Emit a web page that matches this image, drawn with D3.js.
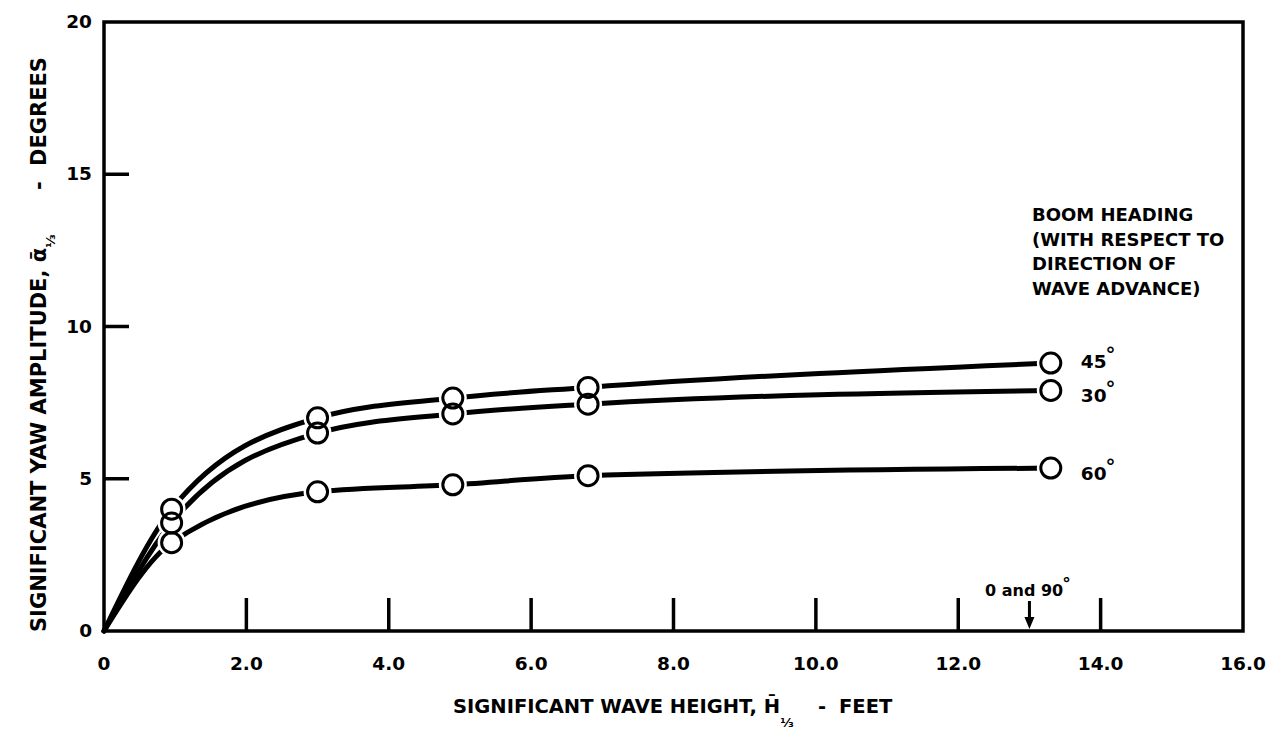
<!DOCTYPE html>
<html>
<head>
<meta charset="utf-8">
<script src="https://cdn.jsdelivr.net/npm/d3@7"></script>
<style>
body { margin: 0; background: #fff; }
svg text { font-family: "DejaVu Sans", sans-serif; font-weight: 700; fill: #000; }
</style>
</head>
<body>
<svg id="chart"></svg>
<script>
// values
var waveHeight = [0, 0.95, 3.0, 4.9, 6.8, 13.3];
var yaw45 = [0, 4.0, 7.0, 7.65, 8.0, 8.8];
var yaw30 = [0, 3.55, 6.5, 7.13, 7.45, 7.9];
var yaw60 = [0, 2.9, 4.57, 4.8, 5.1, 5.35];
var seriesNames = ["45", "30", "60"];
var xTicks = [0, 2, 4, 6, 8, 10, 12, 14, 16];
var yTicks = [0, 5, 10, 15, 20];
var legendLines = ["BOOM HEADING", "(WITH RESPECT TO", "DIRECTION OF", "WAVE ADVANCE)"];
var arrowAt = 13.0;

var svgWidth = 1276, svgHeight = 740;
var svg = d3.select("#chart").attr("width", svgWidth).attr("height", svgHeight);

var x = d3.scaleLinear().domain([0, 16]).range([104, 1243]);
var y = d3.scaleLinear().domain([0, 20]).range([631, 22]);

var series = [yaw45, yaw30, yaw60].map(function(vals, i) {
	return {name: seriesNames[i], pts: vals.map(function(v, j) {return [waveHeight[j], v];})};
});

// frame
svg.append("rect")
	.attr("x", x(0)).attr("y", y(20))
	.attr("width", x(16) - x(0)).attr("height", y(0) - y(20))
	.attr("fill", "none").attr("stroke", "#000").attr("stroke-width", 3.5);

// inside ticks
svg.selectAll(".xt").data(xTicks.slice(1, -1)).enter().append("line")
	.attr("x1", function(d) {return x(d);}).attr("x2", function(d) {return x(d);})
	.attr("y1", y(0)).attr("y2", y(0) - 33)
	.attr("stroke", "#000").attr("stroke-width", 3.5);
svg.selectAll(".yt").data(yTicks.slice(1, -1)).enter().append("line")
	.attr("x1", x(0)).attr("x2", x(0) + 25)
	.attr("y1", function(d) {return y(d);}).attr("y2", function(d) {return y(d);})
	.attr("stroke", "#000").attr("stroke-width", 3.5);

// tick labels
svg.selectAll(".xl").data(xTicks).enter().append("text")
	.attr("x", function(d) {return x(d);}).attr("y", 670)
	.attr("text-anchor", "middle").attr("font-size", 18.5)
	.text(function(d) {return d === 0 ? "0" : d.toFixed(1);});
svg.selectAll(".yl").data(yTicks).enter().append("text")
	.attr("x", 92).attr("y", function(d) {return y(d) + 6;})
	.attr("text-anchor", "end").attr("font-size", 18.5)
	.text(function(d) {return d;});

// axis titles
var xt = svg.append("text").attr("x", 453).attr("y", 713)
	.attr("font-size", 19.5);
xt.append("tspan").text("SIGNIFICANT WAVE HEIGHT,  H\u0304");
xt.append("tspan").attr("font-size", 13).attr("dy", 14).text("\u2153");
xt.append("tspan").attr("dy", -14).attr("x", 818).text("-");
xt.append("tspan").attr("x", 839).text("FEET");

var yt = svg.append("text").attr("transform", "translate(46,632) rotate(-90)")
	.attr("font-size", 21);
yt.append("tspan").text("SIGNIFICANT YAW AMPLITUDE, \u1fb1");
yt.append("tspan").attr("font-size", 13).attr("dy", 9).text("\u2153");
yt.append("tspan").attr("dy", -9).attr("x", 442).text("-");
yt.append("tspan").attr("x", 466).text("DEGREES");

// curves
var line = d3.line()
	.x(function(d) {return x(d[0]);})
	.y(function(d) {return y(d[1]);})
	.curve(d3.curveMonotoneX);

svg.selectAll(".curve").data(series).enter().append("path")
	.attr("d", function(d) {return line(d.pts);})
	.attr("fill", "none").attr("stroke", "#000").attr("stroke-width", 5)
	.attr("stroke-linecap", "round");

var markPts = [];
series.forEach(function(s) {
	s.pts.slice(1).forEach(function(p) {markPts.push(p);});
});

// white gaps round the markers, then the rings
svg.selectAll(".halo").data(markPts).enter().append("circle")
	.attr("cx", function(d) {return x(d[0]);}).attr("cy", function(d) {return y(d[1]);})
	.attr("r", 14).attr("fill", "#fff");
svg.selectAll(".mark").data(markPts).enter().append("circle")
	.attr("cx", function(d) {return x(d[0]);}).attr("cy", function(d) {return y(d[1]);})
	.attr("r", 10).attr("fill", "none").attr("stroke", "#000").attr("stroke-width", 3);

// series labels at the right end
var labelDy = [5, 12, 12];
var sl = svg.selectAll(".sl").data(series).enter().append("text")
	.attr("x", function(d) {return x(d.pts[d.pts.length - 1][0]) + 30;})
	.attr("y", function(d, i) {return y(d.pts[d.pts.length - 1][1]) + labelDy[i];})
	.attr("font-size", 18.5);
sl.append("tspan").text(function(d) {return d.name;});
sl.append("tspan").attr("font-size", 20).attr("dy", -7).attr("dx", -1).text("\u00b0");

// legend heading
svg.selectAll(".lg").data(legendLines).enter().append("text")
	.attr("x", 1032).attr("y", function(d, i) {return 221 + i * 24.5;})
	.attr("font-size", 18)
	.text(function(d) {return d;});

// 0 and 90 deg annotation
var ann = svg.append("text").attr("x", 985).attr("y", 596).attr("font-size", 16);
ann.append("tspan").text("0 and 90");
ann.append("tspan").attr("font-size", 17).attr("dy", -6).attr("dx", -1).text("\u00b0");
svg.append("line")
	.attr("x1", x(arrowAt)).attr("x2", x(arrowAt))
	.attr("y1", 601).attr("y2", y(0) - 8)
	.attr("stroke", "#000").attr("stroke-width", 3);
svg.append("path")
	.attr("d", "M" + (x(arrowAt) - 5) + "," + (y(0) - 14) + "L" + (x(arrowAt) + 5) + "," + (y(0) - 14) + "L" + x(arrowAt) + "," + (y(0) - 2) + "Z")
	.attr("fill", "#000");
</script>
</body>
</html>
